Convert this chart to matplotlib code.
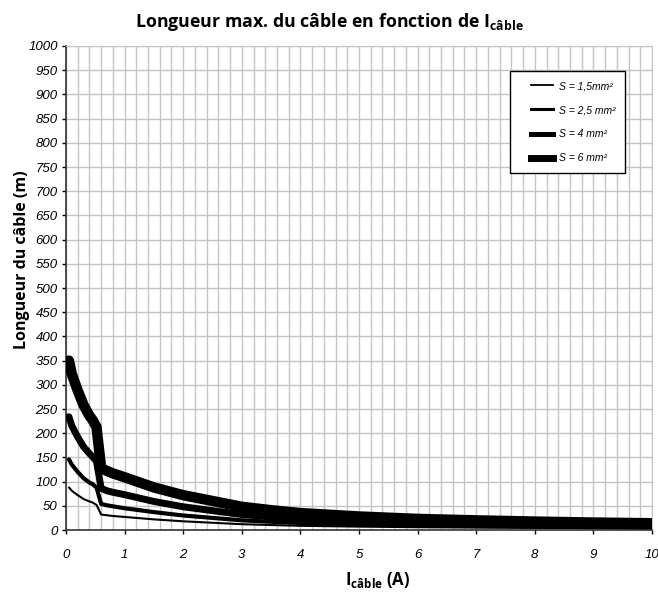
"""
Longueur max. du câble en fonction du courant, pour quatre sections.
"""
import matplotlib
matplotlib.use("Agg")
import matplotlib.pyplot as plt
from matplotlib.lines import Line2D
from matplotlib.legend_handler import HandlerLine2D
from matplotlib.ticker import MultipleLocator

# courant (A)
courant = [0.05, 0.1, 0.2, 0.3, 0.4, 0.45, 0.52, 0.6, 0.7, 0.8, 1.0, 1.5, 2.0,
           2.5, 3.0, 3.5, 4.0, 5.0, 6.0, 7.0, 8.0, 9.0, 10.0]

# longueur max. (m), par section
long_1_5 = [88, 81, 72, 64, 59, 57, 52, 32, 30.5, 29, 27, 22, 18,
            15, 12, 10.3, 8.7, 7, 5.8, 5, 4.4, 3.9, 3.5]
long_2_5 = [146, 135, 120, 107, 98, 95, 88, 54, 51, 49, 45, 37, 30,
            25, 20, 17, 14.5, 11.7, 9.7, 8.3, 7.3, 6.5, 5.8]
long_4 = [234, 215, 192, 172, 158, 152, 142, 86, 81, 78, 73, 59, 48,
          40, 32, 27, 23, 19, 15.5, 13, 11.5, 10.5, 9.5]
long_6 = [350, 322, 288, 258, 236, 228, 213, 128, 122, 117, 109, 88, 72,
          60, 48, 41, 35, 28, 23, 20, 17.5, 15.5, 14]

labels = ["S = 1,5mm²", "S = 2,5 mm²", "S = 4 mm²", "S = 6 mm²"]
series = [long_1_5, long_2_5, long_4, long_6]

plt.rcParams["font.family"] = ["Liberation Sans Narrow", "Liberation Sans", "DejaVu Sans"]
plt.rcParams["mathtext.default"] = "regular"

fig = plt.figure(figsize=(6.58, 5.92), dpi=100)
ax = fig.add_axes([0.1003, 0.1047, 0.8906, 0.8176])

# epaisseurs de trait dans le tracé / dans la légende
lw_plot = [1.5, 3.0, 5.0, 7.5]
lw_leg = [1.3, 2.2, 3.6, 5.0]

for y, lw in zip(series, lw_plot):
    ax.plot(courant, y, color="black", linewidth=lw, solid_joinstyle="round",
            solid_capstyle="round", zorder=3)

ax.set_xlim(0, 10)
ax.set_ylim(0, 1000)
ax.xaxis.set_major_locator(MultipleLocator(1))
ax.xaxis.set_minor_locator(MultipleLocator(0.2))
ax.yaxis.set_major_locator(MultipleLocator(50))
ax.grid(which="both", color="#c4c4c4", linewidth=1.0, zorder=0)
ax.set_axisbelow(True)

ax.tick_params(axis="both", which="major", direction="out", length=3, width=1,
               labelsize=9.5)
ax.tick_params(axis="x", which="major", pad=11)
ax.tick_params(axis="y", which="major", pad=3)
ax.tick_params(axis="x", which="minor", length=0)
for lab in ax.get_xticklabels() + ax.get_yticklabels():
    lab.set_fontstyle("italic")

for side in ["left", "bottom"]:
    ax.spines[side].set_color("#333333")
    ax.spines[side].set_linewidth(1.2)
for side in ["top", "right"]:
    ax.spines[side].set_color("#c4c4c4")

titre_font = ["Open Sans", "DejaVu Sans"]
fig.text(0.5, 1 - 27 / 592, "Longueur max. du câble en fonction de I$_{câble}$",
         ha="center", va="baseline", fontsize=12.8, fontweight="bold", family=titre_font)
ax.set_ylabel("Longueur du câble (m)", fontsize=11.5, fontweight="bold",
              family=titre_font)
ax.yaxis.set_label_coords(-0.061, 0.558)
fig.text(378 / 658, 1 - 585 / 592, "I$_{câble}$ (A)", ha="center", va="baseline",
         fontsize=12, fontweight="bold", family=titre_font)

handles = [Line2D([0], [0], color="black", linewidth=lw) for lw in lw_leg]
leg = ax.legend(handles, labels, loc="upper right", bbox_to_anchor=(0.954, 0.948),
                borderaxespad=0, frameon=True, fancybox=False, edgecolor="black",
                framealpha=1, handlelength=3.2, labelspacing=1.35, borderpad=0.95,
                handletextpad=0.5, prop={"style": "italic", "size": 7.5},
                handler_map={Line2D: HandlerLine2D(xpad=1.1)})
leg.get_frame().set_linewidth(1.0)

fig.savefig("out.png", dpi=100)
